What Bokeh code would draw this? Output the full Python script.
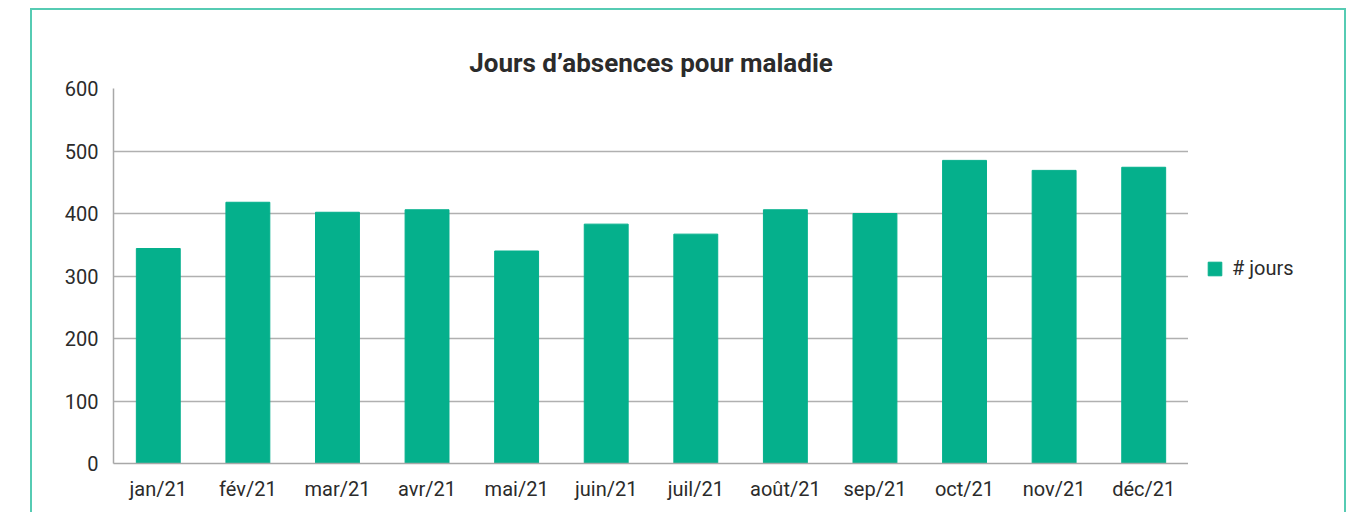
from bokeh.plotting import figure
from bokeh.layouts import row
from bokeh.models import FixedTicker, Range1d, Legend, LegendItem, FactorRange
from bokeh.embed import file_html
from bokeh.resources import INLINE

months = ["jan/21", "fév/21", "mar/21", "avr/21", "mai/21", "juin/21",
          "juil/21", "août/21", "sep/21", "oct/21", "nov/21", "déc/21"]
jours = [344, 418, 402, 406, 340, 383, 367, 406, 400, 485, 469, 474]
y_ticks = [0, 100, 200, 300, 400, 500, 600]
title_text = "Jours d\u2019absences pour maladie"
series_name = "# jours"

FONT = "Roboto"
BAR = "#05b08c"
FRAME = "#56cbb3"
H = 502

p = figure(x_range=months, y_range=Range1d(0, 600),
           width=1156, height=H, output_backend="svg", toolbar_location=None,
           min_border_left=81, min_border_right=0, min_border_top=78, min_border_bottom=49)
p.outline_line_color = None
p.x_range.range_padding = 0

r = p.vbar(x=months, top=jours, width=0.49, color=BAR)

p.title.text = title_text
p.title.align = "center"
p.title.text_font = FONT
p.title.text_font_style = "bold"
p.title.text_font_size = "26px"
p.title.text_color = "#2b2b2b"
p.title.standoff = 22

p.yaxis.ticker = FixedTicker(ticks=y_ticks)
p.xgrid.grid_line_color = None
p.ygrid.grid_line_color = "#b0b0b0"
p.ygrid.grid_line_width = 1.5
for ax in (p.xaxis, p.yaxis):
    ax.axis_line_color = "#a8a8a8"
    ax.axis_line_width = 1.5
    ax.major_tick_line_color = None
    ax.minor_tick_line_color = None
    ax.major_label_text_font = FONT
    ax.major_label_text_font_size = "20px"
    ax.major_label_text_color = "#2b2b2b"
p.yaxis.major_label_standoff = 9
p.xaxis.major_label_standoff = 7

# legend panel as a separate, axis-less figure sharing the bar data
q = figure(x_range=FactorRange(*months), y_range=Range1d(0, 600), width=156, height=H,
           output_backend="svg", toolbar_location=None, x_axis_type=None, y_axis_type=None,
           min_border=0)
q.outline_line_color = None
q.grid.grid_line_color = None
rl = q.vbar(x="x", top="top", source=r.data_source, width=0.49, color=BAR, visible=False)
legend = Legend(items=[LegendItem(label=series_name, renderers=[rl])],
                location=(18, 183), padding=0, margin=0, border_line_color=None,
                background_fill_alpha=0, inactive_fill_alpha=0,
                glyph_width=17, glyph_height=17, label_standoff=9,
                label_text_font=FONT, label_text_font_size="20px", label_text_color="#2b2b2b")
q.add_layout(legend)

layout = row(p, q, styles={"margin-left": "30px", "margin-top": "8px",
                           "border-top": f"2px solid {FRAME}",
                           "border-left": f"2px solid {FRAME}",
                           "border-right": f"2px solid {FRAME}"})

open("out.html", "w").write(file_html(layout, INLINE))
